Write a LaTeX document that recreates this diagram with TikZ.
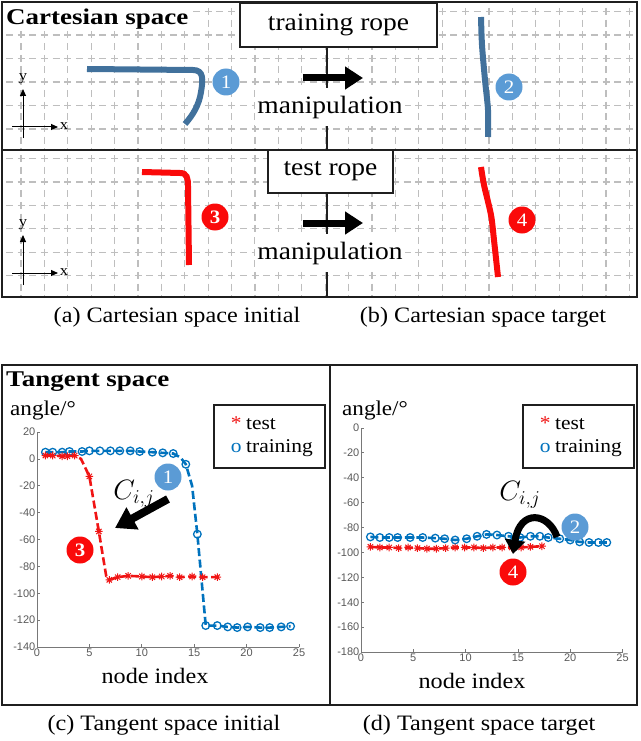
\RequirePackage{fix-cm}
\documentclass[tikz,border=0pt]{standalone}
\usepackage{fontspec}
\setmainfont[FakeStretch=1.1]{Liberation Serif}
\newfontfamily\titlefont[FakeStretch=1.2]{Liberation Serif}
\setsansfont{Liberation Sans}
\usepackage{xcolor}
\usetikzlibrary{arrows.meta}
\usetikzlibrary{plotmarks}
\definecolor{ropeblue}{RGB}{65,113,156}
\definecolor{tagblue}{RGB}{91,155,213}
\definecolor{ropered}{RGB}{250,10,10}
\definecolor{plotblue}{RGB}{0,114,189}
\definecolor{plotred}{RGB}{240,20,20}
\definecolor{gridgray}{RGB}{190,190,190}
\definecolor{axisgray}{RGB}{120,120,120}
\newcommand*{\fsz}[1]{\fontsize{#1}{1.2\dimexpr#1pt\relax}\selectfont}
% eight-armed star like the plot marker
\pgfdeclareplotmark{mstar}{%
  \pgfpathmoveto{\pgfqpoint{-\pgfplotmarksize}{0pt}}\pgfpathlineto{\pgfqpoint{\pgfplotmarksize}{0pt}}%
  \pgfpathmoveto{\pgfqpoint{0pt}{-\pgfplotmarksize}}\pgfpathlineto{\pgfqpoint{0pt}{\pgfplotmarksize}}%
  \pgfpathmoveto{\pgfqpoint{-.7\pgfplotmarksize}{-.7\pgfplotmarksize}}\pgfpathlineto{\pgfqpoint{.7\pgfplotmarksize}{.7\pgfplotmarksize}}%
  \pgfpathmoveto{\pgfqpoint{-.7\pgfplotmarksize}{.7\pgfplotmarksize}}\pgfpathlineto{\pgfqpoint{.7\pgfplotmarksize}{-.7\pgfplotmarksize}}%
  \pgfusepathqstroke}
\tikzset{
  panel/.style={draw=black!88,line width=1.8pt},
  gridline/.style={draw=gridgray,line width=1.2pt,dash pattern=on 7pt off 4.7pt},
  rope/.style={line width=6pt,line cap=butt},
  tag/.style={circle,minimum size=27pt,inner sep=0pt,text=white,font=\fsz{19}},
  labelbox/.style={draw=black!88,line width=1.5pt,fill=white,inner sep=0pt},
  fatarrow/.style={line width=7pt,-{Triangle[length=18pt,width=22pt]}},
  axisline/.style={draw=axisgray,line width=0.8pt},
  ticklabel/.style={font=\sffamily\fsz{11},text=black!65,inner sep=1.5pt},
  legendbox/.style={draw=black!88,line width=1.4pt,fill=white,align=left,font=\fsz{19.5},minimum width=111pt,minimum height=63pt,inner xsep=6pt},
  caption/.style={font=\fsz{22}},
  curveline/.style={line width=2.6pt,dash pattern=on 8pt off 3.5pt},
}
\begin{document}
\begin{tikzpicture}[x=1pt,y=-1pt]
\path[use as bounding box](0,0)rectangle(640,741);

% grids of the cartesian panels
\begin{scope}
\clip(2,2)rectangle(637,150);
\foreach \k in {0,...,26}
  \draw[gridline]({21+23.4*\k},{11.5-26.9})--({21+23.4*\k},160);
\foreach \k in {0,...,5}
  \draw[gridline]({21-26.9},{11.5+23.5*\k})--(645,{11.5+23.5*\k});
\end{scope}
\begin{scope}
\clip(2,150)rectangle(637,297);
\foreach \k in {0,...,26}
  \draw[gridline]({21+23.4*\k},{158.5-26.9})--({21+23.4*\k},305);
\foreach \k in {0,...,5}
  \draw[gridline]({21-26.9},{158.5+23.4*\k})--(645,{158.5+23.4*\k});
\end{scope}

% ropes
\draw[rope,ropeblue](87,69)--(193,70).. controls (204,70) and (203,80) ..(201,92)
  .. controls (199,105) and (193,115) ..(185,124);
\draw[rope,ropeblue]plot[smooth]coordinates{(481,17)(482,45)(485,80)(488,110)(488,137)};
\draw[rope,ropered](142,172)--(180,173).. controls (187,173) and (188,178) ..(188,186)--(189,265);
\draw[rope,ropered]plot[smooth]coordinates{(481,167)(484,185)(491,215)(494,240)(498,277)};

\node[tag,fill=tagblue](t1)at(226,82){1};
\node[tag,fill=tagblue](t2)at(509,87){2};
\node[tag,fill=ropered](t3)at(215,217){\bfseries 3};
\node[tag,fill=ropered](t4)at(522,220){4};

% small x-y axes
\coordinate(ayT0)at(23,138);\coordinate(ayT1)at(23,89);
\coordinate(axT0)at(12,127);\coordinate(axT1)at(58,127);
\draw[line width=1pt,-{Triangle[length=7pt,width=6pt]}](ayT0)--(ayT1);
\draw[line width=1pt,-{Triangle[length=7pt,width=6pt]}](axT0)--(axT1);
\node[font=\fsz{15},inner sep=0pt](lyT)at(23,79){y};
\node[font=\fsz{15},inner sep=0pt](lxT)at(64,126){x};
\coordinate(ayB0)at(23,285);\coordinate(ayB1)at(23,235);
\coordinate(axB0)at(12,273);\coordinate(axB1)at(58,273);
\draw[line width=1pt,-{Triangle[length=7pt,width=6pt]}](ayB0)--(ayB1);
\draw[line width=1pt,-{Triangle[length=7pt,width=6pt]}](axB0)--(axB1);
\node[font=\fsz{15},inner sep=0pt](lyB)at(23,225){y};
\node[font=\fsz{15},inner sep=0pt](lxB)at(64,272){x};

% frame of the cartesian panels
\draw[panel](2,2)rectangle(637,297);
\draw[panel](2,150)--(637,150);
\draw[panel](327,47)--(327,297);

\node[fill=white,inner sep=1pt,anchor=base west,font=\titlefont\bfseries\fsz{22.5}](cart)at(5,25){Cartesian space};
\node[labelbox,minimum width=197pt,minimum height=44pt,font=\fsz{25}](train)at(338.5,25){training rope};
\node[labelbox,minimum width=125pt,minimum height=43pt,font=\fsz{25}](test)at(330.5,171.5){test rope};
\node[fill=white,inner sep=2pt,minimum height=38pt,font=\fsz{25}](manT)at(330,107){manipulation};
\node[fill=white,inner sep=2pt,minimum height=38pt,font=\fsz{25}](manB)at(330,253){manipulation};
\coordinate(arT0)at(303,78);\coordinate(arT1)at(363,78);
\coordinate(arB0)at(303,223);\coordinate(arB1)at(363,223);
\draw[fatarrow](arT0)--(arT1);
\draw[fatarrow](arB0)--(arB1);

\node[caption](capa)at(177,317){(a) Cartesian space initial};
\node[caption](capb)at(483,317){(b) Cartesian space target};

% tangent space panels
\draw[panel](2,365)rectangle(637,705);
\draw[panel](330,365)--(330,705);
\node[anchor=base west,inner sep=1pt,font=\titlefont\bfseries\fsz{22.5}](tang)at(5,386){Tangent space};
\node[anchor=base west,inner sep=0pt,font=\fsz{21}](angL)at(10,415){angle/°};
\node[anchor=base west,inner sep=0pt,font=\fsz{21}](angR)at(342,415){angle/°};
\node[anchor=base,inner sep=0pt,font=\fsz{22}](nodeL)at(155,683){node index};
\node[anchor=base,inner sep=0pt,font=\fsz{22}](nodeR)at(472,688){node index};

% left plot
\begin{scope}[shift={(37pt,-458.9pt)},x=10.48pt,y=1.344pt]
\draw[axisline](0,20)--(0,-140)--(25,-140);
\foreach \v in {20,0,-20,-40,-60,-80,-100,-120,-140}{
  \draw[axisline](0,\v)--++(3pt,0pt);
  \node[ticklabel,anchor=east]at(0,\v){\v};}
\foreach \n in {0,5,...,25}{
  \draw[axisline](\n,-140)--++(0pt,3pt);
  \node[ticklabel,anchor=north]at(\n,-140){\n};}
\draw[plotblue,curveline]plot coordinates{(0.8,5)(1.5,5)(2.4,5)(3.1,5.5)(4.3,5.5)(5,6)(6,6)(7,6)(7.9,6)(8.9,6)(9.8,5.5)(11,5)(12,4.5)(13,4)(13.7,1)(14.2,-4)(14.8,-20)(15.3,-56)(16.1,-124)(17.2,-124)(18.2,-125)(19.1,-125.5)(20.1,-125)(21.3,-125.5)(22.2,-125.5)(23.3,-125)(24.2,-124.5)};
\draw[plotblue,line width=1.3pt]plot[only marks,mark=o,mark size=3.8pt]coordinates{(0.8,5)(1.5,5)(2.4,5)(3.1,5.5)(4.3,5.5)(5,6)(6,6)(7,6)(7.9,6)(8.9,6)(9.8,5.5)(11,5)(12,4.5)(13,4)(14.2,-4)(15.3,-56)(16.1,-124)(17.2,-124)(18.2,-125)(19.1,-125.5)(20.1,-125)(21.3,-125.5)(22.2,-125.5)(23.3,-125)(24.2,-124.5)};
\draw[plotred,curveline]plot coordinates{(0.8,2.5)(1.5,2.5)(2.4,2)(2.9,2)(3.6,2.5)(4.2,0)(5,-13)(5.9,-54)(6.6,-87)(6.9,-90)(7.7,-88)(8.7,-87)(10,-87.5)(11,-88)(11.9,-87.5)(12.7,-87)(13.6,-88)(14.8,-87.5)(15.8,-88)(17.2,-88)};
\draw[plotred,line width=1pt]plot[only marks,mark=mstar,mark size=3.8pt]coordinates{(0.8,2.5)(1.5,2.5)(2.4,2)(2.9,2)(3.6,2.5)(5,-13)(5.9,-54)(6.9,-90)(7.7,-88)(8.7,-87)(10,-87.5)(11,-88)(11.9,-87.5)(12.7,-87)(13.6,-88)(14.8,-87.5)(15.8,-88)(17.2,-88)};
\end{scope}

% right plot
\begin{scope}[shift={(361pt,-428pt)},x=10.46pt,y=1.2444pt]
\draw[axisline](0,0)--(0,-180)--(25,-180);
\foreach \v in {0,-20,-40,-60,-80,-100,-120,-140,-160,-180}{
  \draw[axisline](0,\v)--++(3pt,0pt);
  \node[ticklabel,anchor=east]at(0,\v){\v};}
\foreach \n in {0,5,...,25}{
  \draw[axisline](\n,-180)--++(0pt,3pt);
  \node[ticklabel,anchor=north]at(\n,-180){\n};}
\draw[plotblue,curveline]plot coordinates{(0.9,-87.5)(1.8,-88)(2.7,-88)(3.5,-88)(4.7,-88)(5.9,-88)(7.1,-88.5)(8,-89)(9,-90)(10.1,-89)(11.1,-87)(12,-85.5)(13,-86)(14.1,-87)(15.2,-88)(16.2,-87)(17.1,-87)(17.9,-88)(19,-89)(20,-90)(20.9,-91.5)(21.8,-92)(22.7,-92)(23.5,-92)};
\draw[plotblue,line width=1.3pt]plot[only marks,mark=o,mark size=3.8pt]coordinates{(0.9,-87.5)(1.8,-88)(2.7,-88)(3.5,-88)(4.7,-88)(5.9,-88)(7.1,-88.5)(8,-89)(9,-90)(10.1,-89)(11.1,-87)(12,-85.5)(13,-86)(14.1,-87)(15.2,-88)(16.2,-87)(17.1,-87)(17.9,-88)(19,-89)(20,-90)(20.9,-91.5)(21.8,-92)(22.7,-92)(23.5,-92)};
\draw[plotred,curveline]plot coordinates{(0.9,-95.5)(1.8,-96)(2.7,-96)(3.6,-96.5)(4.5,-96)(5.4,-96.5)(6.3,-97)(7.2,-97)(8.1,-96.5)(9,-96)(9.9,-96)(10.8,-96)(11.7,-96.5)(12.6,-96)(13.5,-96)(14.4,-96)(15.3,-96)(16.2,-95.5)(17.3,-95)};
\draw[plotred,line width=1pt]plot[only marks,mark=mstar,mark size=3.8pt]coordinates{(0.9,-95.5)(1.8,-96)(2.7,-96)(3.6,-96.5)(4.5,-96)(5.4,-96.5)(6.3,-97)(7.2,-97)(8.1,-96.5)(9,-96)(9.9,-96)(10.8,-96)(11.7,-96.5)(12.6,-96)(13.5,-96)(14.4,-96)(15.3,-96)(16.2,-95.5)(17.3,-95)};
\end{scope}

% legends
\node[legendbox](legL)at(269.5,436.5){\makebox[20pt][c]{\textcolor{plotred}{*}}test\\\makebox[20pt][c]{\textcolor{plotblue}{o}}training};
\node[legendbox](legR)at(578.5,436.5){\makebox[20pt][c]{\textcolor{plotred}{*}}test\\\makebox[20pt][c]{\textcolor{plotblue}{o}}training};

% correspondence marks
\node[tag,fill=tagblue](p1)at(168,477){1};
\node[tag,fill=ropered](p3)at(80,550){\bfseries 3};
\node[tag,fill=tagblue](p2)at(575,527){2};
\node[tag,fill=ropered](p4)at(513,572){4};
\node[font=\fsz{28},inner sep=0pt](cijL)at(134,494){$C_{i,j}$};
\node[font=\fsz{28},inner sep=0pt](cijR)at(520,495){$C_{i,j}$};
\coordinate(cL0)at(168,499);\coordinate(cL1)at(115,528);
\draw[line width=8pt,-{Triangle[length=20pt,width=24pt]}](cL0)--(cL1);
\coordinate(cR0)at(557,537);\coordinate(cR1)at(513,554);
\draw[line width=7pt,-{Triangle[length=14pt,width=20pt]}](cR0).. controls (549,513) and (520,508) ..(cR1);

\node[caption](capc)at(164,725){(c) Tangent space initial};
\node[caption](capd)at(479,725){(d) Tangent space target};
\end{tikzpicture}
\end{document}
